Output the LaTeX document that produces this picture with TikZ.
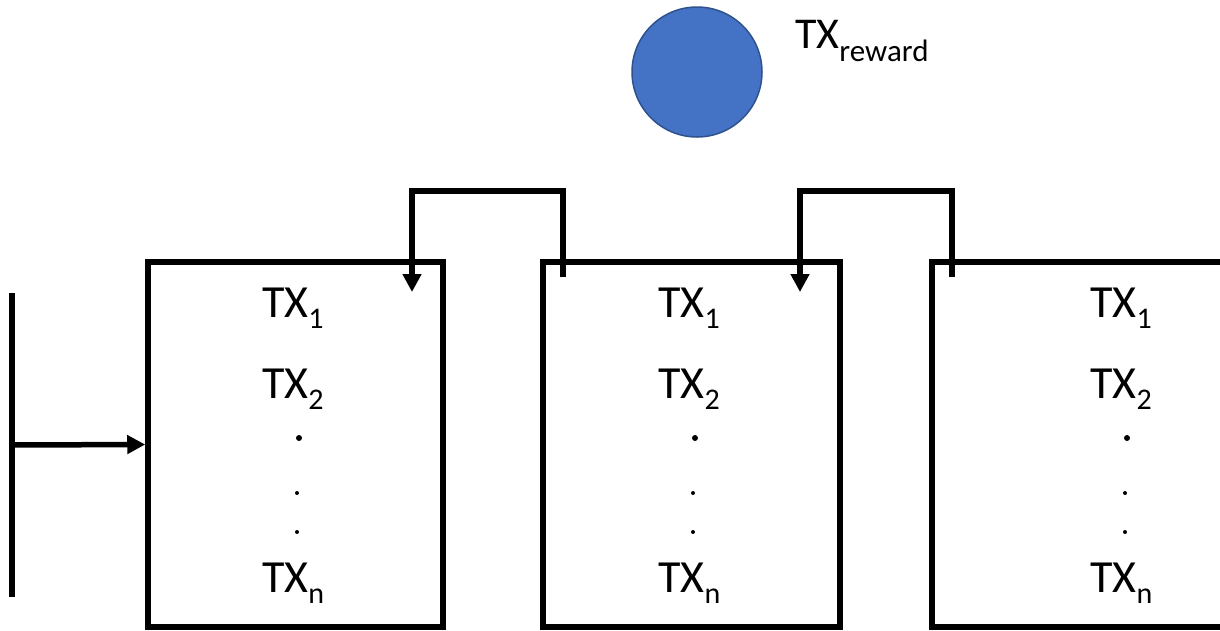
\documentclass[tikz,border=0pt]{standalone}
\usepackage{fontspec}
\setmainfont{Carlito}
\usetikzlibrary{arrows.meta,calc}
\definecolor{circfill}{HTML}{4472C4}
\definecolor{circedge}{HTML}{2F528F}
\newcommand{\txlab}[1]{\fontsize{46}{46}\selectfont TX\raisebox{-11pt}{\fontsize{30}{30}\selectfont #1}}
\begin{document}
\begin{tikzpicture}[x=1pt,y=-1pt,
  blockbox/.style={draw, line width=5.5pt, rectangle, inner sep=0pt, minimum height=365pt},
  conn/.style={line width=5.5pt},
  arr/.style={conn, -{Triangle[length=18pt,width=18pt]}},
  txt/.style={anchor=base west, inner sep=0pt},
  bigdot/.style={circle, fill, inner sep=0pt, minimum size=6pt},
  smalldot/.style={circle, fill, inner sep=0pt, minimum size=4pt}]
\useasboundingbox (0,0) rectangle (1220,630);
% blocks
\node[blockbox, minimum width=295pt] (b1) at (295.5,444.5) {};
\node[blockbox, minimum width=297pt] (b2) at (691.5,444.5) {};
\node[blockbox, minimum width=297pt] (b3) at (1080.5,444.5) {};
% reward coin
\node[circle, fill=circfill, draw=circedge, line width=1.5pt, minimum size=130pt, inner sep=0pt] (coin) at (697,72) {};
\node[txt] (rw) at (795,48) {\fontsize{44}{44}\selectfont TX\raisebox{-13pt}{\fontsize{31}{31}\selectfont reward}};
% block contents
\foreach \x/\n in {262/1,658/2,1090/3}{
  \node[txt] (txa-\n) at (\x,317) {\txlab{1}};
  \node[txt] (txb-\n) at (\x,398) {\txlab{2}};
  \node[bigdot] (da-\n) at (\x+37,438) {};
  \node[smalldot] (db-\n) at (\x+35,493) {};
  \node[smalldot] (dc-\n) at (\x+35,532) {};
  \node[txt] (txn-\n) at (\x,592) {\txlab{n}};
}
% left bar and input arrow
\coordinate (lt) at (12,293);
\coordinate (lb) at (12,597);
\coordinate (la) at (12,445);
\draw[conn] (lt) -- (lb);
\draw[arr] (la) -- (b1.west);
% back links
\coordinate (s1) at (563,277);
\coordinate (t1) at (563,191);
\coordinate (e1) at (412,292);
\draw[arr] (s1) -- (t1) -| (e1);
\coordinate (s2) at (952,277);
\coordinate (t2) at (952,191);
\coordinate (e2) at (800,292);
\draw[arr] (s2) -- (t2) -| (e2);
\end{tikzpicture}
\end{document}
